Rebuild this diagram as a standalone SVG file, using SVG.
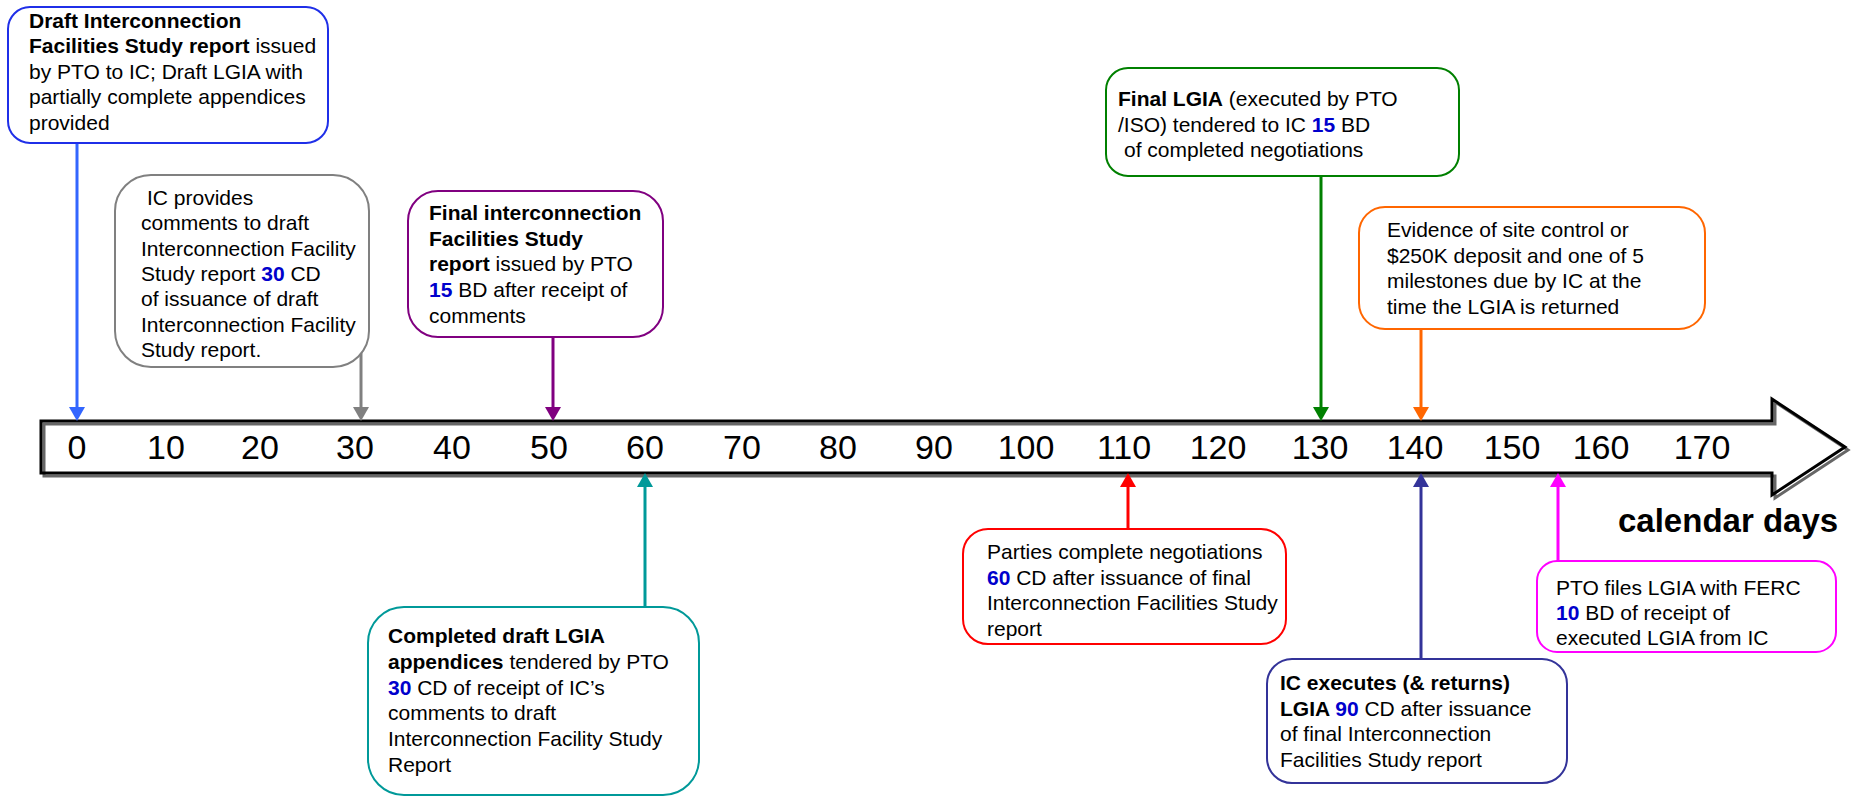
<svg xmlns="http://www.w3.org/2000/svg" width="1852" height="797" viewBox="0 0 1852 797">
  <style>
    text { font-family: "Liberation Sans", Arial, sans-serif; font-size: 21px; fill: #000; }
    .b { font-weight: bold; }
    .n { font-weight: bold; fill: #0000cc; }
    .box { fill: #fff; stroke-width: 2; }
    .tick { font-size: 34px; text-anchor: middle; }
    .unit { font-size: 33px; font-weight: bold; }
    .conn { fill: none; stroke-width: 3; }
  </style>
  <defs>
    <marker id="hBlue" markerUnits="userSpaceOnUse" viewBox="0 0 14 16" refX="0" refY="8" markerWidth="14" markerHeight="16" orient="auto"><path d="M0,0 L14,8 L0,16 z" fill="#3366ff"/></marker>
    <marker id="hGray" markerUnits="userSpaceOnUse" viewBox="0 0 14 16" refX="0" refY="8" markerWidth="14" markerHeight="16" orient="auto"><path d="M0,0 L14,8 L0,16 z" fill="#808080"/></marker>
    <marker id="hPurple" markerUnits="userSpaceOnUse" viewBox="0 0 14 16" refX="0" refY="8" markerWidth="14" markerHeight="16" orient="auto"><path d="M0,0 L14,8 L0,16 z" fill="#800080"/></marker>
    <marker id="hGreen" markerUnits="userSpaceOnUse" viewBox="0 0 14 16" refX="0" refY="8" markerWidth="14" markerHeight="16" orient="auto"><path d="M0,0 L14,8 L0,16 z" fill="#008000"/></marker>
    <marker id="hOrange" markerUnits="userSpaceOnUse" viewBox="0 0 14 16" refX="0" refY="8" markerWidth="14" markerHeight="16" orient="auto"><path d="M0,0 L14,8 L0,16 z" fill="#ff6600"/></marker>
    <marker id="hTeal" markerUnits="userSpaceOnUse" viewBox="0 0 14 16" refX="0" refY="8" markerWidth="14" markerHeight="16" orient="auto"><path d="M0,0 L14,8 L0,16 z" fill="#009999"/></marker>
    <marker id="hRed" markerUnits="userSpaceOnUse" viewBox="0 0 14 16" refX="0" refY="8" markerWidth="14" markerHeight="16" orient="auto"><path d="M0,0 L14,8 L0,16 z" fill="#ff0000"/></marker>
    <marker id="hNavy" markerUnits="userSpaceOnUse" viewBox="0 0 14 16" refX="0" refY="8" markerWidth="14" markerHeight="16" orient="auto"><path d="M0,0 L14,8 L0,16 z" fill="#333399"/></marker>
    <marker id="hMagenta" markerUnits="userSpaceOnUse" viewBox="0 0 14 16" refX="0" refY="8" markerWidth="14" markerHeight="16" orient="auto"><path d="M0,0 L14,8 L0,16 z" fill="#ff00ff"/></marker>
  </defs>

  <rect width="1852" height="797" fill="#fff"/>

  <!-- timeline arrow with offset shadow -->
  <g id="timeline">
    <path d="M44,424 H1775 V402 L1848,450 L1775,498 V476 H44 Z" fill="none" stroke="#666" stroke-width="3"/>
    <path d="M41,421 H1772 V399 L1845,447 L1772,495 V473 H41 Z" fill="none" stroke="#000" stroke-width="3"/>
    <text class="tick" x="77" y="459">0</text>
    <text class="tick" x="166" y="459">10</text>
    <text class="tick" x="260" y="459">20</text>
    <text class="tick" x="355" y="459">30</text>
    <text class="tick" x="452" y="459">40</text>
    <text class="tick" x="549" y="459">50</text>
    <text class="tick" x="645" y="459">60</text>
    <text class="tick" x="742" y="459">70</text>
    <text class="tick" x="838" y="459">80</text>
    <text class="tick" x="934" y="459">90</text>
    <text class="tick" x="1026" y="459">100</text>
    <text class="tick" x="1124" y="459">110</text>
    <text class="tick" x="1218" y="459">120</text>
    <text class="tick" x="1320" y="459">130</text>
    <text class="tick" x="1415" y="459">140</text>
    <text class="tick" x="1512" y="459">150</text>
    <text class="tick" x="1601" y="459">160</text>
    <text class="tick" x="1702" y="459">170</text>
    <text class="unit" x="1618" y="532">calendar days</text>
  </g>

  <!-- connectors from milestone notes to the day scale -->
  <g id="connectors">
    <line class="conn" x1="77" y1="143" x2="77" y2="407" stroke="#3366ff" marker-end="url(#hBlue)"/>
    <line class="conn" x1="361" y1="350" x2="361" y2="407" stroke="#808080" marker-end="url(#hGray)"/>
    <line class="conn" x1="553" y1="337" x2="553" y2="407" stroke="#800080" marker-end="url(#hPurple)"/>
    <line class="conn" x1="1321" y1="176" x2="1321" y2="407" stroke="#008000" marker-end="url(#hGreen)"/>
    <line class="conn" x1="1421" y1="329" x2="1421" y2="407" stroke="#ff6600" marker-end="url(#hOrange)"/>
    <line class="conn" x1="645" y1="613" x2="645" y2="487" stroke="#009999" stroke-width="4" marker-end="url(#hTeal)"/>
    <line class="conn" x1="1128" y1="529" x2="1128" y2="487" stroke="#ff0000" marker-end="url(#hRed)"/>
    <line class="conn" x1="1421" y1="659" x2="1421" y2="487" stroke="#333399" marker-end="url(#hNavy)"/>
    <line class="conn" x1="1558" y1="561" x2="1558" y2="487" stroke="#ff00ff" marker-end="url(#hMagenta)"/>
  </g>

  <g id="draft-report">
    <rect class="box" x="8" y="7" width="320" height="136" rx="22" stroke="#1f2fe8"/>
    <text x="29" y="27.5"><tspan class="b">Draft Interconnection</tspan></text>
    <text x="29" y="53"><tspan class="b">Facilities Study report</tspan> issued</text>
    <text x="29" y="78.5">by PTO to IC; Draft LGIA with</text>
    <text x="29" y="104">partially complete appendices</text>
    <text x="29" y="129.5">provided</text>
  </g>

  <g id="ic-comments">
    <rect class="box" x="115" y="175" width="254" height="192" rx="36" stroke="#808080"/>
    <text x="147" y="205">IC provides</text>
    <text x="141" y="230.3">comments to draft</text>
    <text x="141" y="255.6">Interconnection Facility</text>
    <text x="141" y="280.9">Study report <tspan class="n">30</tspan> CD</text>
    <text x="141" y="306.2">of issuance of draft</text>
    <text x="141" y="331.5">Interconnection Facility</text>
    <text x="141" y="356.8">Study report.</text>
  </g>

  <g id="final-report">
    <rect class="box" x="408" y="191" width="255" height="146" rx="30" stroke="#800080"/>
    <text x="429" y="220"><tspan class="b">Final interconnection</tspan></text>
    <text x="429" y="245.7"><tspan class="b">Facilities Study</tspan></text>
    <text x="429" y="271.4"><tspan class="b">report</tspan> issued by PTO</text>
    <text x="429" y="297.1"><tspan class="n">15</tspan> BD after receipt of</text>
    <text x="429" y="322.8">comments</text>
  </g>

  <g id="final-lgia">
    <rect class="box" x="1106" y="68" width="353" height="108" rx="22" stroke="#008000"/>
    <text x="1118" y="106"><tspan class="b">Final LGIA</tspan> (executed by PTO</text>
    <text x="1118" y="131.5">/ISO) tendered to IC <tspan class="n">15</tspan> BD</text>
    <text x="1124" y="157">of completed negotiations</text>
  </g>

  <g id="site-control">
    <rect class="box" x="1359" y="207" width="346" height="122" rx="26" stroke="#ff6600"/>
    <text x="1387" y="237">Evidence of site control or</text>
    <text x="1387" y="262.5">$250K deposit and one of 5</text>
    <text x="1387" y="288">milestones due by IC at the</text>
    <text x="1387" y="313.5">time the LGIA is returned</text>
  </g>

  <g id="appendices">
    <rect class="box" x="368" y="607" width="331" height="188" rx="36" stroke="#009999"/>
    <text x="388" y="643"><tspan class="b">Completed draft LGIA</tspan></text>
    <text x="388" y="668.8"><tspan class="b">appendices</tspan> tendered by PTO</text>
    <text x="388" y="694.6"><tspan class="n">30</tspan> CD of receipt of IC’s</text>
    <text x="388" y="720.4">comments to draft</text>
    <text x="388" y="746.2">Interconnection Facility Study</text>
    <text x="388" y="772">Report</text>
  </g>

  <g id="negotiations">
    <rect class="box" x="963" y="529" width="323" height="115" rx="25" stroke="#ff0000"/>
    <text x="987" y="559">Parties complete negotiations</text>
    <text x="987" y="584.7"><tspan class="n">60</tspan> CD after issuance of final</text>
    <text x="987" y="610.4">Interconnection Facilities Study</text>
    <text x="987" y="636">report</text>
  </g>

  <g id="ic-executes">
    <rect class="box" x="1267" y="659" width="300" height="124" rx="25" stroke="#333399"/>
    <text x="1280" y="690"><tspan class="b">IC executes (&amp; returns)</tspan></text>
    <text x="1280" y="715.7"><tspan class="b">LGIA </tspan><tspan class="n">90</tspan> CD after issuance</text>
    <text x="1280" y="741.4">of final Interconnection</text>
    <text x="1280" y="767">Facilities Study report</text>
  </g>

  <g id="ferc-filing">
    <rect class="box" x="1537" y="561" width="299" height="91" rx="20" stroke="#ff00ff"/>
    <text x="1556" y="595">PTO files LGIA with FERC</text>
    <text x="1556" y="620"><tspan class="n">10</tspan> BD of receipt of</text>
    <text x="1556" y="645">executed LGIA from IC</text>
  </g>
</svg>
